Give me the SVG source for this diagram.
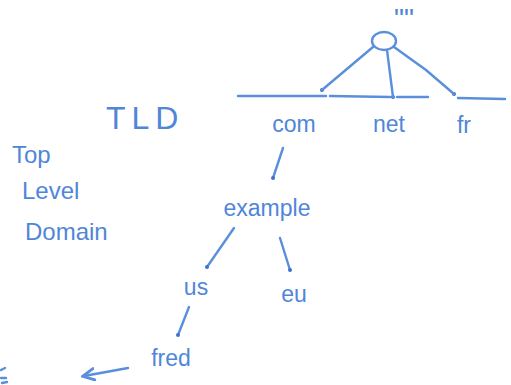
<svg xmlns="http://www.w3.org/2000/svg" width="511" height="385" viewBox="0 0 511 385">
<style>
.ln{stroke:#5a8fdc;stroke-width:2.4;fill:none;stroke-linecap:round;stroke-linejoin:round}
.dot{fill:#3f72c8}
text{font-family:"Liberation Sans","DejaVu Sans",sans-serif;fill:#4f86d8}
.lbl{font-size:23px;text-anchor:middle}
.big{font-size:32px;letter-spacing:6px}
.side{font-size:24px}
</style>
<defs>
<marker id="ah" viewBox="0 0 10 10" refX="8" refY="5" markerWidth="6" markerHeight="6" orient="auto">
<path d="M1,1 L9,5 L1,9" fill="none" stroke="#5a8fdc" stroke-width="2" stroke-linecap="round"/>
</marker>
</defs>
<rect width="511" height="385" fill="#ffffff"/>
<g id="root">
<ellipse class="ln" cx="384" cy="41" rx="12" ry="9"/>
<text x="404" y="28" font-size="28" text-anchor="middle">""</text>
</g>
<g id="tld-line">
<path class="ln" d="M238,96 L326,96 M330,96 L390,97 M397,97 L428,97 M458,98 L505,99"/>
</g>
<g id="tld-label"><text class="big" x="106" y="129">TLD</text></g>
<g id="side-label">
<text class="side" x="12" y="163">Top</text>
<text class="side" x="22" y="199">Level</text>
<text class="side" x="25" y="240">Domain</text>
</g>
<g id="com"><text class="lbl" x="294" y="132">com</text><circle class="dot" cx="322" cy="90" r="2"/></g>
<g id="net"><text class="lbl" x="389" y="132">net</text><circle class="dot" cx="393" cy="97" r="2"/></g>
<g id="fr"><text class="lbl" x="464" y="133">fr</text><circle class="dot" cx="454" cy="94" r="2"/></g>
<g id="example"><text class="lbl" x="267" y="216">example</text></g>
<g id="us"><text class="lbl" x="196" y="295">us</text></g>
<g id="eu"><text class="lbl" x="294" y="302">eu</text></g>
<g id="fred"><text class="lbl" x="171" y="366">fred</text></g>
<g id="connectors">
<path class="ln" d="M373,47 L322,90"/>
<path class="ln" d="M387,50 L393,97"/>
<path class="ln" d="M394,47 L426,70 L454,94"/>
<path class="ln" d="M283,148 L273,178"/>
<circle class="dot" cx="273" cy="178" r="2"/>
<path class="ln" d="M234,228 L207,267"/>
<circle class="dot" cx="207" cy="267" r="2"/>
<path class="ln" d="M280,238 L290,270"/>
<circle class="dot" cx="290" cy="270" r="2"/>
<path class="ln" d="M189,307 L178,335"/>
<circle class="dot" cx="178" cy="335" r="2"/>
<path class="ln" d="M128,368 L84,376" marker-end="url(#ah)"/>
<path class="ln" d="M1,370 L5,368 M1,378 L6,378 M2,383 L7,382"/>
</g>
</svg>
